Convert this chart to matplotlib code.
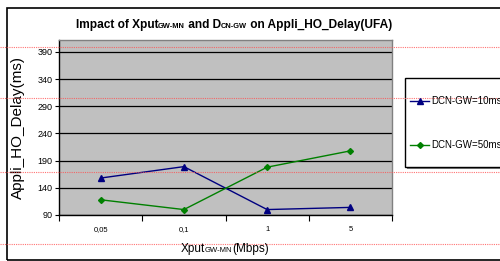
"""
Appli_HO_Delay vs Xput (UFA)
"""
import numpy as np
import matplotlib
matplotlib.use('Agg')
import matplotlib.pyplot as plt
from matplotlib.lines import Line2D
from matplotlib.patches import Rectangle
from matplotlib.offsetbox import TextArea, HPacker, AnnotationBbox

plt.rcParams['font.family'] = ['Liberation Sans', 'DejaVu Sans']

# data
xput = ['0,05', '0,1', '1', '5']
delay_10ms = [158, 179, 100, 104]
delay_50ms = [118, 100, 178, 208]
y_ticks = [90, 140, 190, 240, 290, 340, 390]

W, H = 500, 261
fig = plt.figure(figsize=(W / 100, H / 100), dpi=100)

# outer frame of the chart object (right side runs off the picture)
fig.add_artist(Rectangle((7 / W, 1 - 260 / H), 1.0, (260 - 8) / H,
                         transform=fig.transFigure, fill=False,
                         edgecolor='black', linewidth=1.2))

ax = fig.add_axes([59 / W, 1 - 215 / H, (392 - 59) / W, (215 - 40) / H])
ax.set_facecolor('#C0C0C0')

x = np.arange(len(xput))
ax.plot(x, delay_10ms, color='#000080', marker='^', markersize=4.5,
        linewidth=1.0, label='DCN-GW=10ms')
ax.plot(x, delay_50ms, color='#008000', marker='D', markersize=3,
        linewidth=1.0, label='DCN-GW=50ms')

ax.set_xlim(-0.5, len(xput) - 0.5)
ax.set_ylim(90, 412)
ax.set_yticks(y_ticks)
ax.set_yticklabels([str(v) for v in y_ticks], fontsize=6.5)
ax.tick_params(axis='y', direction='out', length=3, width=0.8, pad=1.5)
ax.yaxis.grid(True, color='black', linewidth=0.9)
ax.set_axisbelow(True)

# ticks between categories, labels at centres
ax.set_xticks(np.arange(-0.5, len(xput)), [''] * (len(xput) + 1))
ax.set_xticks(x, xput, minor=True, fontsize=5.5)
ax.tick_params(axis='x', which='major', direction='out', length=4, width=0.8)
ax.tick_params(axis='x', which='minor', length=0, pad=8)

for s in ['left', 'bottom']:
    ax.spines[s].set_color('black')
    ax.spines[s].set_linewidth(1.0)
for s in ['top', 'right']:
    ax.spines[s].set_color('#808080')
    ax.spines[s].set_linewidth(1.0)

ax.set_ylabel('Appli_HO_Delay(ms)', fontsize=11)
ax.yaxis.set_label_coords((25 - 59) / (392 - 59), 0.5)


def mixed_text(parts, xy):
    boxes = [TextArea(t, textprops=dict(fontsize=fs, fontweight=fw, color='black'))
             for t, fs, fw in parts]
    pack = HPacker(children=boxes, align='baseline', pad=0, sep=0)
    ab = AnnotationBbox(pack, xy, xycoords='figure fraction', frameon=False,
                        box_alignment=(0.5, 0.5), pad=0)
    fig.add_artist(ab)


mixed_text([('Impact of Xput', 8.6, 'bold'), ('GW-MN', 5.4, 'bold'),
            (' and D', 8.6, 'bold'), ('CN-GW', 5.4, 'bold'),
            (' on Appli_HO_Delay(UFA)', 8.6, 'bold')], (234 / W, 1 - 25 / H))
mixed_text([('Xput', 8.5, 'normal'), ('GW-MN', 5.5, 'normal'),
            ('(Mbps)', 8.5, 'normal')], (225 / W, 1 - 249 / H))

# legend box with a shadow
fig.add_artist(Rectangle((407 / W, 1 - 169 / H), 1.0, (169 - 80) / H,
                         transform=fig.transFigure, facecolor='#808080',
                         edgecolor='none'))
fig.add_artist(Rectangle((405 / W, 1 - 167 / H), 1.0, (167 - 78) / H,
                         transform=fig.transFigure, facecolor='white',
                         edgecolor='black', linewidth=1.0))
leg = fig.legend(loc='center left', bbox_to_anchor=(410 / W, 1 - 123 / H),
                 frameon=False, fontsize=7, handlelength=2.0,
                 handletextpad=0.2, labelspacing=3.5, borderpad=0,
                 borderaxespad=0)

# red dotted page lines running across the picture
for yy in [47, 98, 172, 244]:
    fig.add_artist(Line2D([0, 1], [1 - yy / H, 1 - yy / H],
                          transform=fig.transFigure, color='#FF5050',
                          linestyle=(0, (1, 1)), linewidth=0.8, alpha=0.8))

fig.savefig('out.png', dpi=100)
